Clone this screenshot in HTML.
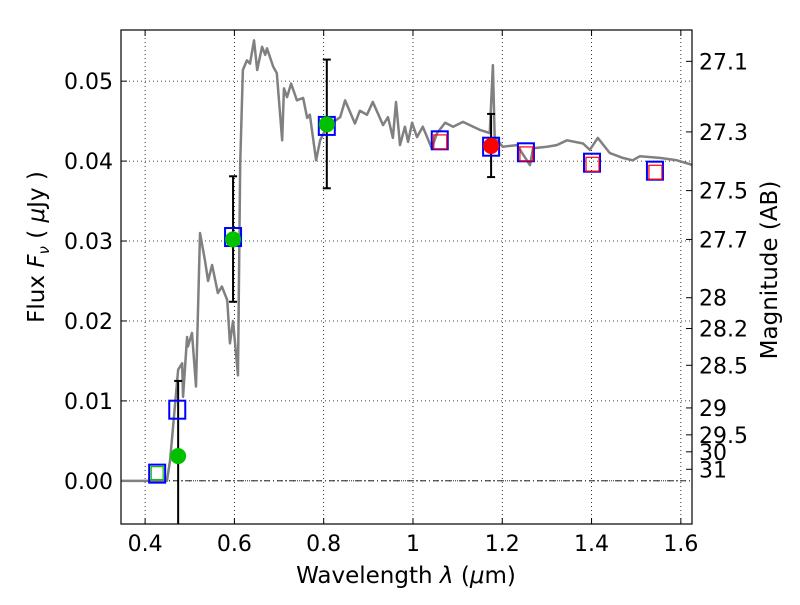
<!DOCTYPE html>
<html><head><meta charset="utf-8"><style>
body{margin:0;background:#fff;}
svg text{font-family:"DejaVu Sans","Liberation Sans",sans-serif;}
</style></head><body>
<svg id="chart" width="800" height="600" xmlns="http://www.w3.org/2000/svg"></svg>
<script>
const specWl=[0.346,0.449,0.456,0.474,0.483,0.485,0.494,0.496,0.505,0.514,0.523,0.534,0.541,0.550,0.563,0.572,0.584,0.590,0.597,0.608,0.613,0.619,0.628,0.635,0.644,0.651,0.662,0.669,0.673,0.687,0.695,0.707,0.711,0.718,0.727,0.740,0.754,0.763,0.769,0.783,0.792,0.807,0.837,0.848,0.870,0.881,0.897,0.910,0.933,0.944,0.955,0.962,0.971,0.982,0.989,0.998,1.009,1.022,1.042,1.054,1.072,1.090,1.112,1.150,1.172,1.179,1.183,1.201,1.233,1.262,1.269,1.300,1.322,1.345,1.381,1.396,1.414,1.441,1.470,1.492,1.508,1.553,1.591,1.627];
const specFlux=[0,0,0.0026,0.0139,0.0147,0.0105,0.018,0.0168,0.0185,0.0118,0.031,0.0276,0.025,0.027,0.0235,0.0243,0.0226,0.0172,0.020,0.0132,0.0397,0.0514,0.0526,0.0522,0.0551,0.0514,0.0543,0.0533,0.0541,0.0518,0.051,0.0426,0.0491,0.048,0.0497,0.0476,0.0479,0.0454,0.0458,0.0401,0.0426,0.0443,0.0455,0.0476,0.0447,0.0463,0.0458,0.0474,0.0445,0.0455,0.0429,0.0474,0.042,0.0443,0.0424,0.0448,0.043,0.0443,0.0416,0.0435,0.0448,0.0443,0.0449,0.0439,0.0435,0.052,0.043,0.0418,0.042,0.0395,0.0416,0.0418,0.042,0.0426,0.0422,0.0414,0.0429,0.041,0.0404,0.0401,0.0406,0.0404,0.0401,0.0395];
const modelWl=[0.427,0.472,0.597,0.807,1.060,1.175,1.253,1.401,1.542];
const modelFlux=[0.0009,0.0089,0.0305,0.0444,0.0426,0.0418,0.0411,0.0398,0.0388];
const redSqWl=[1.060,1.253,1.401,1.542];
const redSqFlux=[0.0424,0.0409,0.0396,0.0386];
const obsWl=[0.474,0.597,0.807];
const obsFlux=[0.0031,0.0302,0.0446];
const obsLo=[-0.01,0.0224,0.0366];
const obsHi=[0.0125,0.0381,0.0527];
const specObsWl=[1.175];
const specObsFlux=[0.0419];
const specObsLo=[0.038];
const specObsHi=[0.0459];
const xTicks=[0.4,0.6,0.8,1.0,1.2,1.4,1.6];
const xTickLabels=["0.4","0.6","0.8","1","1.2","1.4","1.6"];
const yTicks=[0,0.01,0.02,0.03,0.04,0.05];
const yTickLabels=["0.00","0.01","0.02","0.03","0.04","0.05"];
const magTicks=[27.1,27.3,27.5,27.7,28,28.2,28.5,29,29.5,30,31];
const magTickLabels=["27.1","27.3","27.5","27.7","28","28.2","28.5","29","29.5","30","31"];

const L=121,R=692,T=30,B=524,X0=0.346,X1=1.625,Y0=-0.0054,Y1=0.0564;
const sx=v=>L+(v-X0)/(X1-X0)*(R-L);
const sy=v=>B-(v-Y0)/(Y1-Y0)*(B-T);
const svg=document.getElementById('chart');
const NS='http://www.w3.org/2000/svg';
function mk(tag,attrs,parent){const e=document.createElementNS(NS,tag);for(const k in attrs)e.setAttribute(k,attrs[k]);(parent||svg).appendChild(e);return e;}
const clip=mk('clipPath',{id:'pc'});mk('rect',{x:L,y:T,width:R-L,height:B-T},clip);
xTicks.forEach((v,i)=>{
 const g=mk('line',{x1:sx(v),x2:sx(v),y1:T,y2:B,stroke:'#000','stroke-width':0.8,'stroke-dasharray':'1,3'});
 
 
 mk('line',{x1:sx(v),x2:sx(v),y1:B,y2:B-6,stroke:'#000'});mk('line',{x1:sx(v),x2:sx(v),y1:T,y2:T+6,stroke:'#000'});
 const t=mk('text',{x:sx(v),y:B+27,'text-anchor':'middle','font-size':22});t.textContent=xTickLabels[i];
 
 
});
yTicks.forEach((v,i)=>{
 const g=mk('line',{x1:L,x2:R,y1:sy(v),y2:sy(v),stroke:'#000','stroke-width':0.8,'stroke-dasharray':'1,3'});
 
 
 mk('line',{x1:L,x2:L+6,y1:sy(v),y2:sy(v),stroke:'#000'});
 const t=mk('text',{x:L-8,y:sy(v)+8,'text-anchor':'end','font-size':22});t.textContent=yTickLabels[i];
 
 
});
magTicks.forEach((m,i)=>{
 const f=Math.pow(10,-(m-23.9)/2.5);
 mk('line',{x1:R,x2:R-6,y1:sy(f),y2:sy(f),stroke:'#000'});
 const t=mk('text',{x:R+7,y:sy(f)+8,'font-size':22});t.textContent=magTickLabels[i];
 
 
});
const zl=mk('line',{x1:L,x2:R,y1:sy(0),y2:sy(0),stroke:'#000','stroke-width':0.8,'stroke-dasharray':'6,3,1,3'});


const sp=mk('polyline',{points:specWl.map((w,i)=>sx(w)+','+sy(specFlux[i])).join(' '),fill:'none',stroke:'#808080','stroke-width':2.5,'clip-path':'url(#pc)','stroke-linejoin':'round'});


function ebar(w,lo,hi,name){
 const g=mk('g',{'clip-path':'url(#pc)'});
 
 
 mk('line',{x1:sx(w),x2:sx(w),y1:sy(hi),y2:sy(lo),stroke:'#000','stroke-width':2},g);
 mk('line',{x1:sx(w)-4,x2:sx(w)+4,y1:sy(hi),y2:sy(hi),stroke:'#000','stroke-width':2},g);
 mk('line',{x1:sx(w)-4,x2:sx(w)+4,y1:sy(lo),y2:sy(lo),stroke:'#000','stroke-width':2},g);
}
obsWl.forEach((w,i)=>ebar(w,obsLo[i],obsHi[i],'photometry-error-bar'));
specObsWl.forEach((w,i)=>ebar(w,specObsLo[i],specObsHi[i],'spectroscopy-error-bar'));
modelWl.forEach((w,i)=>{
 const r=mk('rect',{x:sx(w)-8,y:sy(modelFlux[i])-9,width:16,height:18,fill:'none',stroke:'#0000ff','stroke-width':2});
 
 
});
const gs=mk('rect',{x:sx(modelWl[0])-6,y:sy(modelFlux[0])-7,width:12,height:13,fill:'none',stroke:'#00bb00','stroke-width':1.2});


redSqWl.forEach((w,i)=>{
 const r=mk('rect',{x:sx(w)-6,y:sy(redSqFlux[i])-7,width:13,height:14,fill:'none',stroke:'#ff0000','stroke-width':1.2});
 
 
});
obsWl.forEach((w,i)=>{
 const c=mk('circle',{cx:sx(w),cy:sy(obsFlux[i]),r:8,fill:'#00c000'});
 
 
});
specObsWl.forEach((w,i)=>{
 const c=mk('circle',{cx:sx(w),cy:sy(specObsFlux[i]),r:8,fill:'#ff0000'});
 
 
});
const fr=mk('rect',{x:L,y:T,width:R-L,height:B-T,fill:'none',stroke:'#000','stroke-width':1.2});


const xt=mk('text',{x:406,y:583,'text-anchor':'middle','font-size':23,'xml:space':'preserve'});
xt.innerHTML='Wavelength  <tspan font-style="italic">λ</tspan> (<tspan font-style="italic">μ</tspan>m)';


const yt=mk('text',{x:0,y:0,'text-anchor':'middle','font-size':23,transform:'translate(44,247) rotate(-90)'});
yt.innerHTML='Flux  <tspan font-style="italic">F</tspan><tspan font-style="italic" font-size="15" dy="5">ν</tspan><tspan dy="-5">  ( </tspan><tspan font-style="italic">μ</tspan>Jy )';


const rt=mk('text',{x:0,y:0,'text-anchor':'middle','font-size':23,transform:'translate(777,270) rotate(-90)'});rt.textContent='Magnitude (AB)';


</script>
</body></html>
